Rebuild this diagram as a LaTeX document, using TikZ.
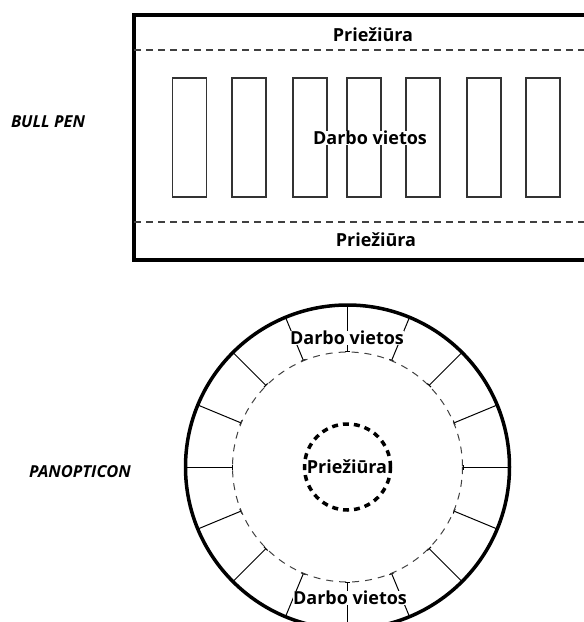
\documentclass[tikz,border=0pt]{standalone}
\usepackage{fontspec}
\setmainfont{Open Sans}
\usetikzlibrary{arrows.meta,calc}

\begin{document}
\begin{tikzpicture}[x=1pt,y=-1pt,
  wall/.style={line width=3.5pt},
  zone/.style={draw=black!75, line width=1.1pt, dash pattern=on 7pt off 5pt},
  desk/.style={draw=black!80, line width=1.2pt, minimum width=34pt, minimum height=119pt, inner sep=0pt},
  tag/.style={font=\bfseries\fontsize{18}{18}\selectfont, fill=white, inner sep=0.3pt},
  side/.style={font=\bfseries\itshape\fontsize{16.5}{17}\selectfont}]
\useasboundingbox (0,0) rectangle (584,622);
\clip (0,0) rectangle (584,622);

% bull pen
\draw[wall] (600,15) -- (134,15) -- (134,260) -- (600,260);
\draw[zone] (134,50) -- (600,50);
\draw[zone] (134,222) -- (600,222);
\foreach \x [count=\i] in {189.5,249,310,364,423,484,543}
  \node[desk] (d\i) at (\x,137.5) {};
\node[tag] (top) at (373,35) {Priežiūra};
\node[tag] (bottom) at (376,240) {Priežiūra};
\node[tag] (desks) at (370,138) {Darbo vietos};
\node[side] (bull) at (48,122) {BULL PEN};

% panopticon
\coordinate (c) at (347.5,467);
\foreach \a in {0,22.5,...,337.5}
  \draw[line width=1pt, {Bar[width=5pt]}-] ($(c)+(\a:115)$) -- ($(c)+(\a:162)$);
\draw[draw=black!75, line width=1pt, dash pattern=on 7pt off 6pt] (c) circle (115);
\draw[wall] (c) circle (162);
\draw[line width=3.5pt, dash pattern=on 6pt off 5pt] (c) circle (43);
\node[tag] (up) at (347,338) {Darbo vietos};
\node[tag] (down) at (350,598) {Darbo vietos};
\node[tag] (guard) at (347,467) {Priežiūra};
\node[side] (pan) at (80,472) {PANOPTICON};
\end{tikzpicture}
\end{document}
